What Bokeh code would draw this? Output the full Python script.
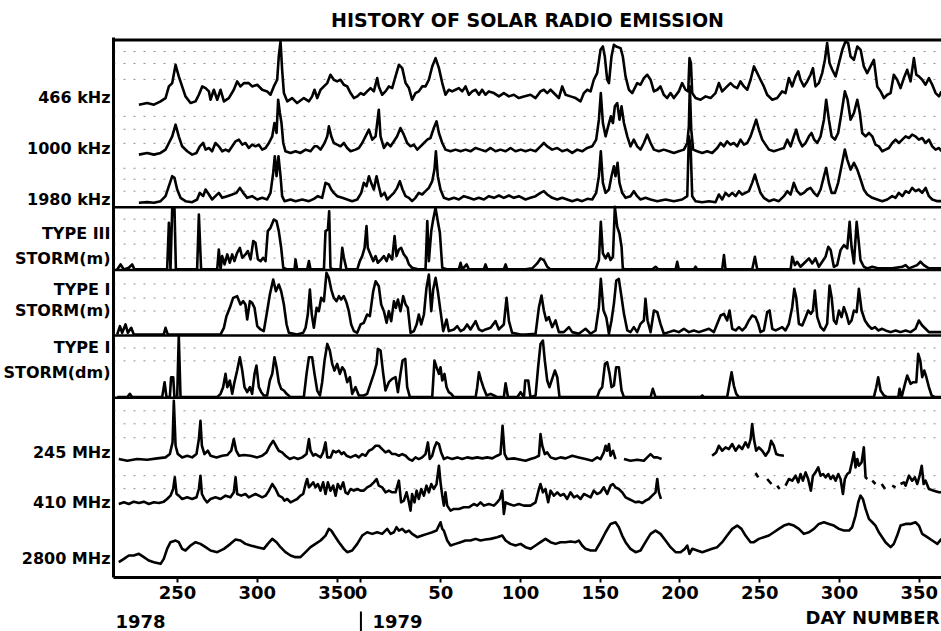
import numpy as np
from bokeh.plotting import figure
from bokeh.layouts import column
from bokeh.models import Range1d, Span, FixedTicker
from bokeh.core.properties import value
from bokeh.embed import file_html
from bokeh.resources import INLINE

nan = float("nan")

# ---------------- data ----------------
# day numbers run continuously: 1978 day d -> d, 1979 day d -> 365 + d
# values are relative intensities (arbitrary units) above each channel's baseline

khz466 = [(225.8,2),(231.0,7),(235.2,2),(239.4,12),(242.5,22),(244.6,57),(246.7,67),(248.8,122),(250.8,87),(252.9,57),(255.0,27),(258.2,7),(261.3,12),(263.4,32),(265.5,57),(267.6,52),(269.7,42),(270.7,17),(272.8,47),(274.9,17),(277.0,47),(279.1,12),(282.2,22),(285.3,47),(287.4,72),(289.5,57),(291.6,67),(294.7,67),(296.8,57),(300.0,62),(303.1,47),(306.2,42),(308.3,32),(310.4,57),(312.5,77),(313.5,147),(314.6,192),(315.6,107),(316.7,37),(318.8,12),(321.9,22),(325.0,7),(329.2,22),(332.4,12),(334.4,27),(335.9,47),(337.6,22),(339.7,47),(341.8,57),(343.9,67),(345.9,92),(348.0,77),(350.1,72),(352.2,77),(354.3,62),(356.4,57),(358.5,37),(360.6,22),(362.7,27),(364.8,37),(366.8,32),(368.9,42),(371.0,52),(373.1,42),(375.2,82),(376.2,57),(378.3,32),(380.4,42),(382.5,57),(384.6,52),(386.7,87),(388.8,122),(390.9,112),(393.0,67),(395.1,52),(397.1,17),(399.2,37),(401.3,42),(403.4,57),(405.5,57),(407.6,77),(409.7,117),(411.8,142),(413.9,112),(416.0,67),(418.0,32),(420.1,47),(422.2,42),(424.3,47),(426.4,52),(428.5,42),(430.6,57),(432.7,32),(434.8,42),(436.9,47),(439.0,32),(441.0,47),(443.1,32),(445.2,42),(448.4,37),(451.5,27),(454.6,37),(457.8,27),(460.9,32),(464.0,22),(467.2,27),
(471.3,32),(474.5,22),(477.6,42),(479.7,47),(481.8,37),(483.9,47),(487.0,32),(489.1,22),(491.2,57),(493.3,32),(496.4,27),(499.6,22),(502.7,12),(504.8,37),(506.9,47),(509.0,42),(511.0,77),(513.1,97),(515.2,167),(516.7,177),(517.9,147),(519.4,77),(520.5,67),(522.1,147),(523.6,182),(525.0,177),(527.8,172),(529.2,147),(530.9,87),(533.0,47),(535.1,37),(538.2,67),(540.3,62),(542.4,82),(544.5,92),(546.6,77),(548.7,42),(550.8,47),(552.8,57),(554.9,32),(557.0,22),(559.1,37),(561.2,22),(564.3,42),(566.4,67),(568.5,47),(570.2,42),(571.0,142),(571.9,127),(572.7,37),(574.8,22),(577.9,17),(581.1,27),(584.2,22),(587.3,37),(589.4,67),(591.5,42),(594.6,57),(596.7,67),(598.8,57),(600.9,52),(603.0,72),(605.1,57),(607.2,47),(609.3,77),(611.4,117),(613.5,97),(615.5,77),(617.6,57),(619.7,32),(622.9,17),(626.0,22),(629.1,42),(631.2,37),(633.3,82),(635.4,57),(637.5,87),(639.2,102),(640.6,77),(642.7,57),(644.8,72),(646.9,92),(648.4,112),(650.0,57),(652.1,67),(654.2,97),(655.9,137),(657.3,187),(658.8,127),(660.5,107),(662.6,87),(664.7,127),(666.8,167),(668.8,192),(670.5,187),(672.0,147),(674.1,137),(676.2,177),(678.3,167),(680.3,117),(682.4,97),(684.5,117),(686.6,137),(688.7,57),(690.8,42),(692.9,22),(695.0,32),(697.1,37),(699.1,92),(701.2,77),(703.3,52),(705.4,82),(707.5,107),(709.6,72),(711.7,142),(713.2,92),(714.8,87),(716.9,77),(719.0,62),(721.1,82),(723.2,62),(725.3,37),(727.4,27),(729.0,42)]

khz1000 = [(225.8,2),(231.0,7),(235.2,2),(239.4,7),(242.5,17),(244.6,37),(246.7,57),(248.8,92),(250.8,57),(252.9,27),(256.1,12),(259.2,2),(261.9,7),(264.0,27),(266.1,37),(267.6,17),(269.7,22),(271.7,12),(273.8,37),(275.9,27),(278.0,12),(280.1,17),(282.2,12),(284.3,27),(286.4,42),(288.5,47),(290.6,32),(292.6,37),(294.7,22),(296.8,32),(298.9,27),(301.0,32),(303.1,17),(305.2,22),(307.3,37),(309.4,57),(310.8,97),(312.1,67),(313.1,167),(314.2,127),(315.2,97),(316.3,37),(317.7,12),(320.9,7),(324.0,12),(327.1,7),(330.3,17),(333.4,12),(335.9,27),(337.6,27),(339.7,17),(342.2,37),(343.9,57),(344.9,87),(346.4,57),(348.0,37),(350.1,32),(352.2,27),(354.3,37),(356.4,22),(358.5,12),(361.6,17),(363.7,22),(365.8,37),(367.9,57),(370.0,77),(372.1,47),(374.2,57),(376.2,137),(377.3,57),(379.4,22),(381.5,37),(383.6,27),(385.7,42),(387.7,57),(389.8,82),(391.9,62),(394.0,37),(396.1,27),(398.2,32),(400.3,17),(402.4,27),(404.5,37),(406.6,47),(408.6,52),(410.7,82),(412.4,102),(413.9,67),(416.0,37),(418.0,17),(421.2,12),(424.3,17),(427.5,12),(430.6,17),(433.7,12),(436.9,22),(440.0,17),(443.1,12),(446.3,22),(449.4,12),(452.5,17),(455.7,12),(458.8,22),(461.9,12),(465.3,17),
(468.2,12),(471.3,17),(474.5,12),(477.6,27),(479.7,37),(481.8,27),(484.9,17),(488.1,22),(491.2,12),(494.3,17),(497.5,7),(500.6,17),(503.7,12),(506.9,22),(510.0,27),(512.5,47),(514.2,107),(515.4,187),(516.7,97),(518.4,57),(520.0,87),(521.7,117),(523.0,97),(524.2,147),(525.7,157),(527.1,107),(528.4,147),(529.9,97),(532.0,57),(534.0,27),(536.1,47),(538.2,27),(540.3,17),(542.4,37),(544.5,62),(546.6,37),(548.7,17),(551.8,12),(554.9,17),(558.1,12),(561.2,7),(564.3,12),(567.5,17),(569.6,37),(570.6,87),(571.2,207),(572.1,77),(573.3,17),(575.8,12),(579.0,7),(582.1,12),(585.2,7),(588.4,22),(590.5,37),(592.6,27),(594.6,42),(596.7,32),(598.8,37),(600.9,27),(603.0,47),(605.1,32),(607.2,37),(609.3,57),(611.4,87),(612.8,107),(614.5,77),(616.6,47),(618.7,32),(620.8,17),(623.9,12),(627.0,17),(630.2,22),(632.3,47),(634.4,27),(636.4,57),(637.9,77),(639.6,47),(641.7,27),(643.8,37),(645.9,57),(647.5,67),(649.2,47),(651.1,37),(653.2,57),(655.3,107),(656.7,167),(658.4,107),(660.1,57),(662.2,47),(664.2,67),(666.3,127),(668.4,192),(670.1,167),(672.0,107),(674.1,127),(676.2,167),(677.8,127),(679.3,67),(681.4,57),(683.5,67),(685.6,57),(687.6,32),(689.7,27),(691.8,12),(693.9,17),(696.0,22),(698.1,37),(700.2,47),(702.3,37),(704.4,47),(706.5,57),(708.6,52),(710.6,62),(712.7,57),(714.8,47),(716.9,52),(719.0,37),(721.1,47),(723.2,27),(725.3,17),(727.4,22),(729.0,12)]

khz1980 = [(225.8,2),(231.0,4),(235.2,2),(239.4,7),(242.5,22),(244.6,52),(246.7,82),(248.1,77),(249.8,42),(251.9,17),(255.0,7),(259.2,4),(262.3,12),(264.0,32),(266.1,22),(267.6,42),(269.7,27),(271.7,12),(273.8,22),(275.9,32),(278.0,17),(281.2,22),(284.3,27),(287.0,32),(289.1,47),(291.2,32),(293.7,17),(296.8,22),(300.0,12),(303.1,17),(306.2,12),(308.3,32),(310.0,92),(311.0,142),(312.1,82),(313.3,142),(314.6,82),(315.6,22),(317.1,7),(320.9,12),(324.0,7),(328.2,12),(332.4,7),(335.5,14),(338.0,22),(340.7,17),(342.8,62),(344.9,57),(346.4,42),(348.0,32),(350.1,22),(353.3,17),(356.4,12),(359.5,7),(362.7,12),(365.2,32),(366.8,62),(368.5,52),(370.0,82),(371.4,62),(373.1,42),(374.8,82),(376.2,52),(377.7,22),(379.8,32),(381.5,12),(383.6,22),(385.7,32),(387.7,47),(389.4,67),(391.1,42),(393.0,22),(395.1,17),(397.1,7),(399.2,17),(401.3,32),(403.4,27),(405.5,37),(407.6,47),(409.7,67),(411.1,102),(412.0,157),(413.2,82),(414.9,42),(417.0,17),(420.1,12),(423.3,17),(426.4,12),(429.5,22),(432.7,17),(435.8,12),(438.9,17),(442.1,12),(445.2,22),(448.4,17),(451.5,24),(454.6,17),(457.8,24),(460.9,17),(464.0,22),
(468.2,12),(471.3,17),(474.5,22),(477.6,32),(479.7,37),(481.8,27),(484.9,17),(488.1,12),(491.2,17),(494.3,12),(497.5,7),(500.6,12),(503.7,7),(506.9,14),(510.0,12),(512.5,32),(514.2,82),(515.4,157),(516.7,62),(518.4,32),(520.5,42),(522.1,82),(523.6,112),(524.6,82),(525.9,122),(527.1,62),(528.8,32),(530.9,17),(534.0,22),(536.1,37),(538.2,22),(540.3,12),(543.4,17),(546.6,12),(550.8,7),(556.0,12),(561.2,7),(566.4,12),(569.6,22),(570.6,202),(571.7,172),(572.7,22),(574.8,7),(579.0,4),(583.2,7),(587.3,4),(589.4,27),(591.5,12),(593.6,32),(595.7,22),(597.8,32),(599.9,22),(602.0,37),(604.0,27),(606.1,32),(608.2,37),(610.3,62),(612.0,87),(613.5,62),(615.5,32),(617.6,17),(620.8,7),(623.9,12),(627.0,7),(630.2,22),(632.3,37),(634.4,27),(636.4,62),(638.5,37),(640.6,27),(642.7,32),(644.8,42),(646.9,47),(649.0,32),(651.1,22),(653.2,42),(655.3,82),(656.7,107),(658.4,62),(660.1,32),(662.2,32),(664.2,62),(666.3,112),(668.4,162),(669.9,132),(672.0,102),(674.1,122),(676.2,102),(678.3,72),(680.3,42),(682.4,27),(685.6,17),(688.7,12),(691.8,7),(695.0,12),(698.1,22),(700.2,17),(702.3,32),(704.4,22),(706.5,37),(708.6,32),(710.6,47),(712.7,37),(714.8,42),(716.9,32),(719.0,47),(721.1,22),(723.2,12),(726.4,7),(729.0,7)]

type3_m = [(212.2,2),(214.3,17),(216.4,2),(219.5,7),(221.6,17),(223.0,2),(243.5,2),(244.6,142),(245.6,2),(246.7,187),(248.1,187),(249.0,2),(262.3,2),(263.4,167),(264.8,2),(274.9,2),(275.9,62),(277.0,2),(278.0,42),(279.5,17),(281.2,47),(282.8,22),(284.3,47),(285.7,27),(287.4,52),(289.1,67),(290.6,37),(292.6,47),(294.1,57),(295.8,32),(297.5,87),(298.9,82),(300.4,32),(302.1,27),(303.7,37),(305.2,27),(306.6,117),(308.3,127),(310.4,152),(312.1,147),(313.5,117),(315.0,67),(316.3,7),(318.8,2),(323.4,2),(324.0,32),(325.0,2),(331.3,2),(332.4,27),(333.4,2),(341.8,2),(342.8,117),(344.3,122),(345.1,177),(345.9,7),(347.6,2),(352.2,2),(353.3,67),(354.3,37),(356.0,2),(362.7,2),(364.3,27),(365.8,42),(367.3,67),(368.5,132),(369.3,67),(371.0,47),(372.7,27),(374.2,42),(375.6,22),(377.7,32),(379.4,42),(381.1,27),(382.5,47),(384.6,32),(386.1,102),(387.3,42),(388.8,62),(390.2,67),(391.9,47),(393.6,37),(395.1,17),(397.1,7),(401.3,2),(405.5,2),(406.6,147),(407.6,27),(409.1,117),(410.3,152),(411.8,187),(413.2,147),(414.5,112),(416.0,7),(419.1,2),(426.4,2),(427.5,22),(428.5,2),(431.3,17),(432.7,2),(442.1,2),(443.1,17),(444.2,2),(454.6,2),(455.7,17),(456.7,2),(468.2,2),(472.4,5),(475.5,20),(477.6,35),(479.7,30),(481.8,10),(483.9,2),(512.1,2),(514.2,30),(515.4,145),(516.7,50),(518.4,35),(520.0,50),(521.5,30),(523.0,40),(524.2,190),(525.7,130),(527.1,110),(528.4,70),(529.2,5),(530.9,2),(547.6,2),(549.7,10),(551.4,2),(562.3,2),(563.3,25),(564.3,2),(573.7,2),(574.8,10),(575.8,2),(591.5,2),(592.6,45),(593.6,2),(610.3,2),(612.0,40),(613.5,2),(634.4,2),(635.4,40),(637.1,15),(638.5,25),(640.6,10),(643.8,25),(645.9,35),(648.0,20),(650.0,35),(652.1,10),(654.2,25),(656.3,40),(658.0,70),(659.5,60),(661.5,10),(663.6,15),(665.7,60),(667.8,75),(669.9,65),(671.4,145),(672.6,70),(674.1,20),(675.8,145),(677.2,80),(678.2,30),(680.3,10),(682.4,5),(685.6,10),(689.7,5),(698.1,5),(704.4,10),(706.5,15),(708.6,5),(713.7,15),(715.8,25),(717.9,15),(721.1,5),(729.0,5)]

type1_m = [(212.2,3),(213.9,28),(215.3,8),(217.4,33),(218.9,8),(221.0,23),(222.6,3),(241.4,3),(242.5,23),(243.9,3),(277.0,3),(279.1,23),(280.7,58),(282.8,83),(284.9,113),(287.4,118),(289.5,93),(291.2,103),(292.6,93),(293.7,48),(295.4,103),(296.8,98),(298.3,83),(300.0,28),(302.1,18),(304.1,13),(306.2,73),(307.9,123),(310.0,168),(311.7,133),(313.5,153),(315.0,133),(316.7,93),(318.4,33),(319.8,8),(325.0,3),(328.8,8),(330.3,23),(331.7,63),(333.0,138),(334.2,63),(335.5,23),(337.2,83),(338.6,73),(340.1,113),(341.8,103),(343.4,188),(344.9,173),(346.4,138),(348.0,113),(349.7,103),(351.2,118),(352.6,108),(354.3,118),(356.0,98),(357.4,73),(358.9,33),(360.6,13),(362.7,8),(364.8,33),(366.8,38),(368.9,63),(370.6,58),(372.7,133),(374.2,163),(376.2,148),(377.7,93),(379.4,73),(381.1,38),(382.5,73),(384.0,43),(385.7,103),(386.9,83),(388.2,108),(389.8,73),(391.5,118),(393.0,93),(394.4,83),(396.1,8),(398.2,13),(399.9,33),(401.3,63),(402.8,33),(404.5,63),(406.1,143),(407.6,183),(409.1,73),(410.3,138),(411.8,173),(413.2,133),(414.9,73),(416.6,13),(418.7,48),(420.1,13),(423.3,18),(425.4,28),(427.5,13),(429.5,18),(431.6,33),(433.7,18),(436.9,43),(439.0,18),(441.0,13),(443.1,18),(446.3,23),(449.4,43),(451.5,18),(454.6,33),(456.3,113),(457.8,43),(459.8,8),(465.1,3),
(468.2,3),(474.5,5),(476.6,85),(478.2,120),(479.7,75),(481.2,45),(482.8,55),(484.9,25),(487.0,45),(489.1,10),(492.2,10),(495.4,25),(497.5,10),(501.6,5),(505.8,20),(509.0,5),(512.1,15),(514.2,85),(515.4,170),(517.1,75),(518.8,55),(520.5,5),(522.1,45),(523.6,95),(525.1,165),(526.7,170),(528.4,115),(529.9,65),(532.0,15),(534.0,10),(536.1,25),(538.2,10),(540.3,35),(542.4,45),(543.4,110),(544.7,45),(546.6,10),(548.7,75),(550.8,70),(552.8,35),(554.9,5),(558.1,10),(561.2,15),(564.3,10),(567.5,20),(570.6,10),(573.7,15),(576.9,10),(580.0,15),(583.2,20),(586.3,10),(588.4,35),(590.5,60),(592.6,65),(594.6,45),(596.1,75),(597.8,20),(599.9,15),(602.0,25),(604.0,15),(606.1,25),(608.2,45),(610.3,60),(612.4,55),(614.1,35),(615.5,10),(617.6,15),(619.7,70),(621.2,75),(622.9,20),(625.0,15),(627.0,20),(629.1,25),(631.2,15),(633.3,35),(635.4,85),(636.7,140),(637.9,115),(639.6,35),(641.7,30),(643.8,55),(645.4,75),(647.1,65),(648.4,75),(649.6,135),(651.1,55),(653.2,25),(655.3,15),(657.3,35),(658.8,150),(660.1,115),(661.5,45),(663.0,35),(664.7,75),(666.3,55),(667.8,85),(669.3,65),(671.0,35),(672.6,45),(674.1,75),(675.8,70),(677.2,140),(678.9,75),(681.0,45),(683.1,30),(685.2,20),(687.3,25),(689.3,15),(691.8,20),(693.9,15),(697.1,10),(700.2,15),(703.3,10),(706.5,15),(709.6,10),(712.7,20),(714.8,45),(716.9,30),(719.0,20),(721.1,10),(724.2,10),(729.0,10)]

type1_dm = [(212.2,2),(218.5,2),(220.1,12),(221.6,2),(240.4,2),(241.9,47),(243.1,2),(245.2,2),(246.0,62),(247.3,62),(248.1,2),(249.8,2),(250.8,187),(251.9,2),(274.9,2),(277.0,12),(278.6,32),(280.1,72),(281.2,32),(282.8,52),(284.3,12),(285.7,47),(287.4,82),(289.1,122),(290.6,82),(292.0,32),(293.7,17),(295.4,32),(296.8,12),(298.3,72),(299.5,97),(301.0,32),(302.5,17),(304.1,7),(306.2,7),(307.9,52),(309.4,72),(310.8,122),(312.1,92),(313.5,47),(315.0,27),(316.7,22),(318.4,12),(320.9,2),(329.2,2),(330.9,72),(332.4,122),(334.4,122),(335.9,72),(337.6,22),(339.3,7),(340.7,47),(342.2,112),(343.9,162),(345.5,142),(347.0,102),(348.4,82),(350.1,102),(351.8,72),(353.3,92),(354.7,82),(356.4,47),(358.1,62),(359.5,12),(361.6,32),(363.7,7),(366.8,7),(368.9,12),(371.0,42),(373.1,72),(374.8,102),(375.6,147),(377.3,142),(379.0,72),(380.4,22),(382.5,47),(384.6,57),(386.7,62),(388.2,17),(389.8,72),(391.1,112),(392.8,117),(394.0,32),(395.7,2),(409.7,2),(411.1,112),(412.4,92),(413.9,72),(414.9,92),(416.0,52),(417.4,72),(418.7,32),(420.1,17),(421.6,12),(423.3,2),(436.9,2),(437.9,32),(439.0,77),(440.4,52),(442.1,27),(443.8,7),(446.3,12),(448.4,7),(450.4,2),(454.6,2),(455.7,44),(457.2,2),(463.0,2),(465.1,17),(467.2,2),(468.0,52),(469.9,52),(471.3,2),(474.5,7),(476.1,92),(477.6,162),(479.1,172),(480.3,112),(481.8,52),(483.2,32),(484.9,57),(486.6,82),(488.1,62),(489.5,2),(513.1,2),(514.6,22),(516.3,32),(518.0,102),(519.4,107),(520.9,72),(522.1,32),(523.6,37),(525.0,92),(526.7,92),(528.4,22),(529.9,2),(546.6,2),(548.0,27),(549.7,2),(577.9,2),(579.0,7),(580.0,2),(594.6,2),(595.7,32),(597.4,77),(598.8,37),(600.3,12),(602.0,2),(686.6,2),(688.1,32),(689.3,62),(690.8,22),(692.9,7),(695.0,2),(701.9,2),(702.7,27),(704.0,2),(706.1,42),(707.5,67),(709.6,42),(711.1,47),(713.2,47),(714.4,132),(715.7,112),(716.9,62),(718.2,82),(719.5,62),(721.1,32),(722.8,7),(724.9,2),(729.0,2)]

mhz245 = [(213.2,5),(218.5,0),(224.7,5),(231.0,3),(237.3,7),(242.5,10),(245.2,20),(246.9,55),(247.7,180),(248.8,45),(250.2,20),(252.9,10),(256.1,15),(259.2,10),(261.9,20),(263.4,65),(264.4,120),(265.3,45),(266.9,20),(269.0,30),(270.7,15),(274.5,10),(278.0,15),(281.2,17),(283.7,30),(285.3,65),(286.8,30),(288.5,15),(291.6,17),(295.8,15),(300.0,10),(303.1,15),(305.8,25),(307.9,45),(310.0,60),(311.7,45),(313.5,30),(315.6,25),(317.7,15),(320.4,5),(323.0,10),(325.5,5),(328.2,10),(330.9,20),(332.4,65),(333.4,30),(335.1,15),(336.5,20),(338.0,15),(339.7,10),(341.3,25),(342.8,55),(343.9,10),(346.0,10),(347.6,30),(349.3,25),(351.2,30),(352.8,20),(354.3,25),(356.0,15),(358.5,10),(361.6,17),(363.7,10),(365.8,20),(367.9,15),(370.0,30),(372.1,35),(374.2,45),(376.2,45),(378.3,35),(380.4,25),(382.5,30),(384.6,20),(386.7,20),(388.8,15),(390.9,20),(393.0,15),(395.1,5),(397.1,0),(399.2,10),(401.3,5),(403.4,10),(405.5,20),(407.0,55),(408.2,5),(409.7,15),(411.1,40),(412.4,55),(413.9,50),(415.3,25),(417.0,5),(419.1,10),(422.2,5),(425.4,10),(428.5,5),(431.6,10),(434.8,7),(437.9,10),(441.0,7),(444.2,10),(447.3,7),(450.4,15),(452.5,20),(453.8,105),(455.1,20),(456.7,5),(460.9,7),(465.1,3),(468.2,0),(471.3,5),(474.5,10),(476.6,15),(477.6,80),(478.7,45),(480.3,20),(481.8,25),(483.9,10),(487.0,5),(490.1,10),(493.3,7),(497.5,15),(501.6,10),(505.8,5),(510.0,0),(513.1,10),(515.2,5),(517.3,25),(518.4,45),(519.4,30),(520.5,50),(521.5,15),(523.0,30),(524.6,5),
(527.0,nan),(529.9,5),(534.0,0),(538.2,3),(542.4,0),(544.5,10),(546.6,20),(548.7,10),(550.8,10),(553.5,5),
(570.0,nan),(585.2,15),(587.7,25),(589.4,45),(591.5,30),(593.6,40),(595.7,35),(597.8,50),(599.9,30),(602.0,45),(604.0,35),(606.1,55),(607.8,40),(609.3,65),(610.3,110),(611.4,65),(612.8,30),(614.5,40),(616.6,30),(618.7,15),(620.8,30),(622.2,60),(623.9,45),(625.4,20),(627.0,17),(630.2,15)]

mhz410 = [(213.2,5),(216.4,10),(219.5,5),(222.6,12),(225.8,8),(228.9,12),(232.0,5),(235.2,10),(238.3,8),(241.4,12),(243.5,20),(245.6,30),(247.3,50),(248.3,85),(249.4,35),(250.8,30),(252.9,20),(256.1,25),(259.2,20),(261.9,25),(263.4,50),(264.4,90),(265.3,35),(266.9,20),(268.6,10),(270.7,20),(273.8,25),(277.0,20),(280.1,30),(283.2,25),(285.3,40),(286.4,85),(287.4,35),(289.9,30),(292.6,35),(294.7,25),(296.8,30),(298.9,35),(301.0,30),(303.1,25),(305.2,30),(307.3,45),(309.4,65),(311.5,50),(313.5,30),(315.6,25),(317.1,15),(318.8,20),(320.9,10),(323.0,15),(325.0,20),(327.1,30),(328.8,35),(330.3,65),(331.3,80),(332.4,55),(333.4,60),(335.1,70),(336.5,55),(338.0,65),(339.7,45),(341.3,70),(342.8,35),(344.3,70),(345.9,45),(347.6,60),(349.1,30),(350.5,65),(352.2,50),(353.9,70),(355.3,40),(356.8,35),(358.5,50),(360.6,45),(362.7,50),(364.8,45),(366.8,45),(368.9,55),(371.0,60),(373.1,70),(374.8,80),(376.2,60),(378.3,55),(380.4,40),(382.5,45),(384.6,40),(386.7,40),(388.8,75),(390.2,10),(391.9,15),(393.6,40),(395.1,10),(396.1,-15),(397.1,35),(398.6,10),(399.9,45),(401.3,20),(402.8,50),(404.5,30),(406.1,60),(407.6,40),(409.1,65),(410.7,50),(412.4,65),(413.9,120),(414.9,70),(416.0,30),(417.0,0),(418.0,40),(419.1,0),(421.2,-15),(423.3,-10),(426.4,-10),(429.5,-5),(432.7,-5),(435.8,5),(437.9,0),(440.0,10),(442.1,0),(445.2,5),(448.4,0),(450.4,10),(452.1,20),(453.6,45),(454.6,-25),(455.7,10),(457.8,5),(460.9,0),(464.0,5),(467.2,0),
(471.3,0),(474.5,10),(476.6,50),(477.6,65),(479.1,40),(480.7,50),(482.4,10),(483.9,45),(486.0,30),(488.1,40),(490.1,30),(492.2,35),(494.3,20),(496.4,40),(498.5,25),(500.6,30),(502.7,20),(504.8,35),(506.9,30),(509.0,25),(511.0,45),(513.1,35),(515.2,40),(517.3,55),(519.4,35),(521.5,60),(523.0,65),(524.6,55),(526.7,50),(528.8,40),(530.9,25),(533.0,20),(535.1,15),(537.2,10),(539.3,12),(541.4,8),(543.4,15),(545.5,20),(547.6,30),(549.7,40),(550.8,80),(551.8,40),(553.1,20),
(555.0,nan),(612.4,98),(614.1,85),(616.0,nan),(619.7,80),(622.4,65),(624.0,nan),(626.0,60),(627.5,50),(629.0,nan),
(631.2,60),(633.3,80),(635.4,75),(637.5,90),(639.2,70),(640.6,95),(642.1,75),(643.8,100),(645.4,80),(647.1,45),(648.4,90),(650.0,100),(651.7,115),(653.2,90),(654.8,95),(656.3,85),(658.0,95),(659.5,80),(661.0,90),(662.6,75),(664.3,95),(665.7,80),(667.2,35),(668.4,80),(669.9,95),(671.4,100),(672.6,125),(674.1,160),(675.1,115),(676.2,140),(677.2,120),(678.9,130),(680.3,175),(681.4,85),(682.5,80),
(684.0,nan),(685.6,75),(687.6,65),(689.0,nan),(691.5,65),(693.6,50),(695.0,nan),(698.1,60),(700.2,55),(702.0,nan),
(703.3,65),(705.4,70),(706.5,60),(708.6,90),(710.6,75),(712.3,85),(713.8,65),(715.3,90),(716.6,120),(717.8,65),(719.0,75),(721.1,50),(724.2,45),(727.4,40),(729.0,40)]

mhz2800 = [(213.2,20),(216.4,30),(219.5,40),(222.6,40),(225.8,45),(228.9,35),(232.0,25),(235.2,20),(239.4,15),(241.4,30),(243.5,60),(245.6,80),(248.8,85),(250.8,80),(252.9,60),(255.0,55),(258.2,70),(261.3,80),(264.4,75),(267.6,65),(270.7,55),(274.9,50),(279.1,60),(283.2,75),(286.4,88),(289.5,85),(292.6,75),(295.8,70),(300.0,65),(304.1,60),(306.6,75),(309.4,90),(312.1,80),(314.6,65),(317.7,50),(320.9,40),(324.0,35),(327.1,35),(330.3,50),(333.4,65),(336.5,75),(339.7,85),(342.8,100),(344.9,120),(346.4,115),(348.4,100),(351.2,80),(354.3,60),(356.4,50),(359.5,55),(362.7,75),(365.8,100),(368.9,110),(372.1,105),(375.2,110),(378.3,105),(381.5,120),(383.6,105),(385.7,110),(387.3,125),(388.8,115),(390.9,120),(393.0,110),(395.1,115),(397.1,105),(400.3,95),(403.4,100),(406.6,105),(409.7,110),(412.4,115),(413.9,130),(414.9,140),(416.0,120),(417.0,115),(419.1,85),(421.2,70),(424.3,75),(427.5,80),(430.6,85),(433.7,85),(436.9,90),(440.0,85),(443.1,88),(446.3,90),(450.4,95),(453.6,100),(455.7,85),(458.8,75),(461.9,70),(465.1,75),
(468.2,65),(471.3,60),(474.5,70),(477.6,80),(480.7,90),(483.9,80),(487.0,75),(490.1,80),(493.3,80),(496.4,82),(499.6,80),(501.6,85),(503.7,70),(505.8,60),(509.0,55),(512.1,55),(515.2,80),(518.4,110),(521.5,135),(524.6,140),(526.7,125),(528.8,100),(530.9,80),(534.0,60),(537.2,50),(540.3,55),(543.4,80),(546.6,105),(549.7,115),(552.8,105),(556.0,85),(559.1,65),(562.3,50),(565.4,50),(568.1,60),(569.6,70),(571.0,45),(572.7,60),(575.8,55),(579.0,50),(582.1,55),(585.2,60),(588.4,65),(591.5,80),(594.6,100),(597.8,120),(600.9,130),(603.6,120),(606.1,100),(609.3,80),(611.4,80),(614.5,90),(617.6,95),(620.8,100),(623.9,110),(627.0,120),(630.2,130),(633.3,135),(636.4,130),(639.6,120),(642.7,105),(645.9,110),(649.0,120),(652.1,135),(655.3,140),(658.4,135),(661.5,130),(664.7,120),(667.8,115),(671.0,115),(673.0,125),(675.1,160),(676.8,200),(678.2,220),(679.7,210),(681.4,180),(683.5,150),(685.6,140),(687.6,130),(689.7,110),(691.8,95),(693.9,80),(697.1,65),(699.1,75),(701.2,100),(703.3,130),(706.5,135),(709.6,135),(712.7,140),(714.8,130),(716.9,105),(720.1,95),(723.2,85),(726.4,75),(729.0,90)]

row_labels = ["466 kHz", "1000 kHz", "1980 kHz", "TYPE III", "STORM(m)", "TYPE I", "STORM(m)",
              "TYPE I", "STORM(dm)", "245 MHz", "410 MHz", "2800 MHz"]
tick_days = [250, 300, 350, 365, 415, 465, 515, 565, 615, 665, 715]
tick_labels = ["250", "300", "350", "0", "50", "100", "150", "200", "250", "300", "350"]
year_labels = ["1978", "1979", "DAY NUMBER"]
year_start = 365  # 1979 day 0 on the continuous day axis
title_text = "HISTORY OF SOLAR RADIO EMISSION"

# ---------------- layout ----------------
W, H = 941, 631
FL, FR, FT, FB = 113, 941, 36, 577
H1 = 606            # main figure height (frame + day-number axis)
H2 = H - H1         # strip below for the year captions
PX250, PPD = 177.0, 1.595
T0 = 250 + (FL - PX250) / PPD
T1 = 250 + (FR - PX250) / PPD

def sx(px):
    return 250 + (px - PX250) / PPD

def sy(py):
    return FB - py

FONT = "DejaVu Sans"
K = 1.0 / 3.0  # pixel per intensity unit

xr = Range1d(T0, T1)
p = figure(width=W, height=H1, x_range=xr, y_range=Range1d(0, FB - FT),
           output_backend="svg", toolbar_location=None, title=title_text,
           min_border_left=FL, min_border_right=W - FR, min_border_top=FT, min_border_bottom=H1 - FB)
p.outline_line_color = None
p.grid.visible = False
p.background_fill_color = "white"
p.border_fill_color = "white"

p.title.align = "center"
p.title.text_font = FONT
p.title.text_font_style = "bold"
p.title.text_font_size = "19px"
p.title.text_color = "black"
p.title.standoff = 13

# dotted background grid (as in the original chart paper)
for gy in [50, 62, 78, 115, 128, 142, 167, 178, 190, 218, 230, 243, 257, 283, 297, 310, 347, 360, 410, 423, 437, 475, 488]:
    p.add_layout(Span(location=sy(gy), dimension="width", line_color="#333333", line_alpha=0.55,
                      line_width=1, line_dash="2 8"))

# frame top and panel separators
p.add_layout(Span(location=sy(38.5), dimension="width", line_color="black", line_width=3))
for sep in [206, 269, 334.5, 397]:
    p.add_layout(Span(location=sy(sep), dimension="width", line_color="black", line_width=2.5))

series = [
    (khz466, sy(104)), (khz1000, sy(154)), (khz1980, sy(202.3)),
    (type3_m, sy(269)), (type1_m, sy(334.5)), (type1_dm, sy(397)),
    (mhz245, sy(460)), (mhz410, sy(505)), (mhz2800, sy(568.3)),
]
for data, base in series:
    d = np.array([a for a, b in data], dtype=float)
    v = np.array([b for a, b in data], dtype=float)
    p.line(d, base + v * K, line_color="black", line_width=2.6, line_join="round")

# left axis: channel names
row_py = [96, 147, 198, 232, 257, 288, 310, 347, 372, 452, 502, 558]
row_y = [int(sy(v)) for v in row_py]
ya = p.yaxis[0]
ya.ticker = FixedTicker(ticks=row_y)
ya.major_label_overrides = {y: l for y, l in zip(row_y, row_labels)}
ya.axis_line_width = 3
ya.major_tick_line_color = None
ya.minor_tick_line_color = None
ya.major_tick_in = 0
ya.major_tick_out = 0
ya.minor_tick_out = 0
ya.major_label_standoff = 3
ya.major_label_text_font = FONT
ya.major_label_text_font_style = "bold"
ya.major_label_text_font_size = "16px"
ya.major_label_text_color = "black"

# bottom axis: day numbers
ax = p.xaxis[0]
ax.ticker = FixedTicker(ticks=tick_days)
ax.major_label_overrides = {t: l for t, l in zip(tick_days, tick_labels)}
ax.axis_line_width = 3
ax.major_tick_line_width = 2
ax.major_tick_in = 0
ax.major_tick_out = 5
ax.minor_tick_line_color = None
ax.major_label_standoff = 3
ax.major_label_text_font = FONT
ax.major_label_text_font_style = "bold"
ax.major_label_text_font_size = "18px"
ax.major_label_text_color = "black"

# strip below: year captions, day-number caption and year divider
p2 = figure(width=W, height=H2, x_range=xr, y_range=Range1d(0, H2),
            output_backend="svg", toolbar_location=None,
            min_border_left=FL, min_border_right=W - FR, min_border_top=0, min_border_bottom=0)
p2.outline_line_color = None
p2.grid.visible = False
p2.xaxis.visible = False
p2.yaxis.visible = False
p2.background_fill_color = "white"
p2.border_fill_color = "white"

def sy2(py):
    return H - py

p2.text(x=[sx(115), sx(372)], y=[sy2(621)] * 2, text=year_labels[:2],
        text_font=value(FONT), text_font_style="bold", text_font_size="18px",
        text_align="left", text_baseline="middle", text_color="black")
p2.text(x=[sx(939)], y=[sy2(617)], text=year_labels[2:],
        text_font=value(FONT), text_font_style="bold", text_font_size="18px",
        text_align="right", text_baseline="middle", text_color="black")
p2.segment(x0=[year_start], y0=[sy2(611)], x1=[year_start], y1=[sy2(631)],
           line_color="black", line_width=2)

layout = column(p, p2, spacing=0)
open("out.html", "w").write(file_html(layout, INLINE))
